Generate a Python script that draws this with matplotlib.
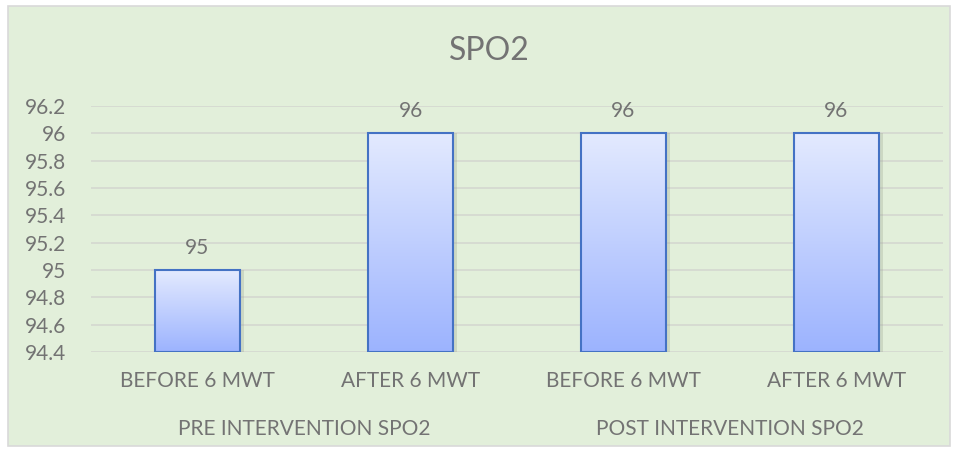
import numpy as np
import matplotlib.pyplot as plt
from matplotlib.patches import Rectangle
from matplotlib.colors import LinearSegmentedColormap

# data
categories = ['BEFORE 6 MWT', 'AFTER 6 MWT', 'BEFORE 6 MWT', 'AFTER 6 MWT']
groups = ['PRE INTERVENTION SPO2', 'POST INTERVENTION SPO2']
spo2 = [95, 96, 96, 96]
yticks = [94.4, 94.6, 94.8, 95, 95.2, 95.4, 95.6, 95.8, 96, 96.2]

bg = '#E2EFDA'
txt = '#737373'
plt.rcParams['font.family'] = ['Lato', 'DejaVu Sans']

fig = plt.figure(figsize=(9.6, 4.54), dpi=100, facecolor='white')
fig.patches.append(Rectangle((8 / 960, 1 - 446 / 454), 942 / 960, 440 / 454,
                             transform=fig.transFigure, facecolor=bg,
                             edgecolor='#D9D9D9', linewidth=1.2, zorder=-5))

ax = fig.add_axes([91 / 960, 1 - 352 / 454, 852 / 960, 246 / 454])
ax.set_facecolor('none')

x = np.arange(len(categories))
base = yticks[0]
heights = [v - base for v in spo2]

# soft shadow
ax.bar(x + 0.010, heights, width=0.42, bottom=base, color='#9aa58f', alpha=0.3,
       linewidth=0, zorder=2)
bars = ax.bar(x, heights, width=0.40, bottom=base, facecolor='none',
              edgecolor='#4472C4', linewidth=1.5, zorder=4)

cmap = LinearSegmentedColormap.from_list('g', ['#E3EAFF', '#9CB3FE'])
grad = np.linspace(0, 1, 256).reshape(-1, 1)
for b in bars:
    x0, y0 = b.get_x(), b.get_y()
    ax.imshow(grad, cmap=cmap, aspect='auto', zorder=3,
              extent=(x0, x0 + b.get_width(), y0, y0 + b.get_height()),
              origin='upper', interpolation='bicubic')

for xi, v in zip(x, spo2):
    ax.annotate(str(v), (xi, v), xytext=(0, 9), textcoords='offset points',
                ha='center', va='bottom', fontsize=15, color=txt)

ax.set_xlim(-0.5, len(categories) - 0.5)
ax.set_ylim(yticks[0], yticks[-1])
ax.set_yticks(yticks)
ax.set_yticklabels(['%g' % t for t in yticks])
ax.set_xticks(x)
ax.set_xticklabels(categories)
ax.tick_params(axis='both', length=0, labelsize=15, colors=txt)
ax.tick_params(axis='x', pad=14)
ax.tick_params(axis='y', pad=18)
ax.grid(axis='y', color='#D4D8D0', linewidth=1.2, zorder=1)
ax.set_axisbelow(True)
for s in ax.spines.values():
    s.set_visible(False)

for gi, g in enumerate(groups):
    fig.text((91 + 213 * (2 * gi + 1)) / 960, 1 - 429 / 454, g, ha='center',
             va='center', fontsize=15, color=txt)

fig.text(489 / 960, 1 - 51 / 454, 'SPO2', ha='center', va='center',
         fontsize=23, color=txt)

fig.savefig('out.png', dpi=100, facecolor=fig.get_facecolor())
